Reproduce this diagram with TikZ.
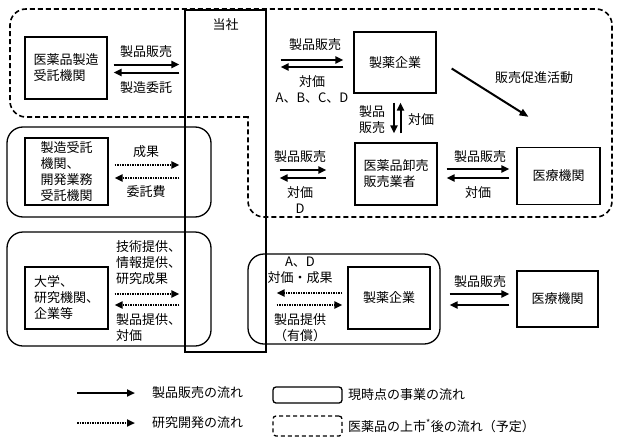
\documentclass[tikz,border=0pt]{standalone}
\usepackage{fontspec}
\setmainfont{Noto Sans CJK JP}
\usetikzlibrary{arrows.meta,calc}
\newcommand\dgfont{\fontsize{13}{16}\selectfont}
\begin{document}
\begin{tikzpicture}[x=1pt,y=-1pt,
  every node/.style={font=\dgfont,inner sep=0pt},
  box/.style={draw,line width=1.3pt,align=left},
  grp/.style={draw,line width=1.3pt,rounded corners=16pt},
  lbl/.style={align=center},
  arr/.style={line width=2pt,-{Triangle[length=8pt,width=7pt]}},
  dotarr/.style={line width=2.2pt,dash pattern=on 1.6pt off 0.9pt,-{Triangle[length=8pt,width=7pt]}},
  bound/.style={line width=1.6pt,dash pattern=on 5pt off 3pt}]
\useasboundingbox (0,0) rectangle (620,444);

% dashed future boundary
\draw[bound,rounded corners=16pt] (248,117) -- (10,117) -- (10,9) -- (612,9) -- (612,217) -- (248,217) -- (248,116);

% group boxes
\node[grp,minimum width=204pt,minimum height=90pt] (g1) at (109,172) {};
\node[grp,minimum width=204pt,minimum height=114pt] (g2) at (109,289) {};
\node[grp,minimum width=192pt,minimum height=90pt] (g3) at (344,299) {};

% company column
\node[draw,line width=1.3pt,minimum width=81pt,minimum height=342pt] (tosha) at (225.5,181) {};
\node (toshalbl) at (225.5,25) {当社};

% boxes
\node[box,minimum width=82pt,minimum height=62pt] (cmo) at (66,68) {医薬品製造\\受託機関};
\node[box,minimum width=83pt,minimum height=67pt] (cro) at (66.5,171.5) {製造受託\\機関、\\開発業務\\受託機関};
\node[box,minimum width=83pt,minimum height=62pt] (univ) at (66.5,298) {大学、\\研究機関、\\企業等};
\node[box,minimum width=82pt,minimum height=61pt] (ph1) at (395,62.5) {製薬企業};
\node[box,minimum width=82pt,minimum height=62pt] (ws) at (396,174) {医薬品卸売\\販売業者};
\node[box,minimum width=83pt,minimum height=57pt] (med1) at (558.5,176) {医療機関};
\node[box,minimum width=82pt,minimum height=62pt] (ph2) at (389,298) {製薬企業};
\node[box,minimum width=81pt,minimum height=56pt] (med2) at (557.5,299) {医療機関};

% cmo <-> tosha
\draw[arr] ([xshift=6pt,yshift=3.5pt]cmo.east) -- ([xshift=-5pt,yshift=3.5pt]cmo.east -| tosha.west);
\draw[arr] ([xshift=-5pt,yshift=-4.5pt]cmo.east -| tosha.west) -- ([xshift=6pt,yshift=-4.5pt]cmo.east);
\node[lbl] (t1) at (146,52) {製品販売};
\node[lbl] (t2) at (146,88) {製造委託};

% cro <-> tosha
\draw[dotarr] ([xshift=6pt,yshift=6.5pt]cro.east) -- ([xshift=-5pt,yshift=6.5pt]cro.east -| tosha.west);
\draw[dotarr] ([xshift=-5pt,yshift=-6.5pt]cro.east -| tosha.west) -- ([xshift=6pt,yshift=-6.5pt]cro.east);
\node[lbl] (t3) at (146,152) {成果};
\node[lbl] (t4) at (146,192) {委託費};

% univ <-> tosha
\draw[dotarr] ([xshift=6pt,yshift=4pt]univ.east) -- ([xshift=-5pt,yshift=4pt]univ.east -| tosha.west);
\draw[dotarr] ([xshift=-5pt,yshift=-7pt]univ.east -| tosha.west) -- ([xshift=6pt,yshift=-7pt]univ.east);
\node[align=left,anchor=west] (t5) at (116,262.5) {技術提供、\\情報提供、\\研究成果};
\node[align=left,anchor=west] (t6) at (116,328) {製品提供、\\対価};

% tosha <-> ph1
\draw[arr] ([xshift=14pt,yshift=2.5pt]ph1.west -| tosha.east) -- ([xshift=-10pt,yshift=2.5pt]ph1.west);
\draw[arr] ([xshift=-10pt,yshift=-4.5pt]ph1.west) -- ([xshift=14pt,yshift=-4.5pt]ph1.west -| tosha.east);
\node[lbl] (t7) at (315,45) {製品販売};
\node[lbl] (t8) at (312,89.5) {対価\\A、B、C、D};

% ph1 <-> ws
\draw[arr] ([xshift=-1pt,yshift=-9pt]ph1.south) -- ([xshift=-1pt,yshift=9pt]ph1.south |- ws.north);
\draw[arr] ([xshift=5.5pt,yshift=9pt]ph1.south |- ws.north) -- ([xshift=5.5pt,yshift=-9pt]ph1.south);
\node[lbl] (t9) at (372,120) {製品\\販売};
\node[lbl] (t10) at (421,120) {対価};

% promotion
\draw[line width=2pt,-{Triangle[length=9pt,width=7pt]}] ([xshift=15pt,yshift=-6pt]ph1.east) -- ([xshift=-30pt,yshift=30pt]med1.north);
\node[lbl] (t11) at (534,78) {販売促進活動};

% tosha <-> ws
\draw[arr] ([xshift=13pt,yshift=4pt]ws.west -| tosha.east) -- ([xshift=-28pt,yshift=4pt]ws.west);
\draw[arr] ([xshift=-28pt,yshift=-4pt]ws.west) -- ([xshift=13pt,yshift=-4pt]ws.west -| tosha.east);
\node[lbl] (t12) at (300,157) {製品販売};
\node[lbl] (t13) at (300,200) {対価\\D};

% ws <-> med1
\draw[arr] ([xshift=9pt,yshift=5pt]ws.east) -- ([xshift=-7pt,yshift=5pt]ws.east -| med1.west);
\draw[arr] ([xshift=-7pt,yshift=-4pt]ws.east -| med1.west) -- ([xshift=9pt,yshift=-4pt]ws.east);
\node[lbl] (t14) at (480,157) {製品販売};
\node[lbl] (t15) at (478,193) {対価};

% tosha <-> ph2
\draw[dotarr] ([xshift=-5pt,yshift=5pt]ph2.west) -- ([xshift=10pt,yshift=5pt]ph2.west -| tosha.east);
\draw[dotarr] ([xshift=10pt,yshift=-7pt]ph2.west -| tosha.east) -- ([xshift=-5pt,yshift=-7pt]ph2.west);
\node[lbl] (t16) at (300,270) {A、D\\対価・成果};
\node[lbl] (t17) at (300,328) {製品提供\\（有償）};

% ph2 <-> med2
\draw[arr] ([xshift=19pt,yshift=4pt]ph2.east) -- ([xshift=-7pt,yshift=4pt]ph2.east -| med2.west);
\draw[arr] ([xshift=-7pt,yshift=-7pt]ph2.east -| med2.west) -- ([xshift=19pt,yshift=-7pt]ph2.east);
\node[lbl] (t18) at (480,282) {製品販売};

% legend
\coordinate (l1a) at (77,393);
\coordinate (l1b) at (135,393);
\coordinate (l2a) at (77,423);
\coordinate (l2b) at (135,423);
\draw[arr] (l1a) -- (l1b);
\draw[dotarr] (l2a) -- (l2b);
\node[anchor=west] (lt1) at (152,393) {製品販売の流れ};
\node[anchor=west] (lt2) at (152,423) {研究開発の流れ};
\node[draw,line width=1.3pt,rounded corners=3pt,minimum width=69pt,minimum height=16pt] (lg1) at (307.5,395) {};
\node[line width=1.3pt,dash pattern=on 4pt off 3pt,draw,rounded corners=3pt,minimum width=69pt,minimum height=20pt] (lg2) at (307.5,426) {};
\node[anchor=west] (lt3) at (348,395) {現時点の事業の流れ};
\node[anchor=west] (lt4) at (348,426) {医薬品の上市\textsuperscript{*}後の流れ（予定）};
\end{tikzpicture}
\end{document}
